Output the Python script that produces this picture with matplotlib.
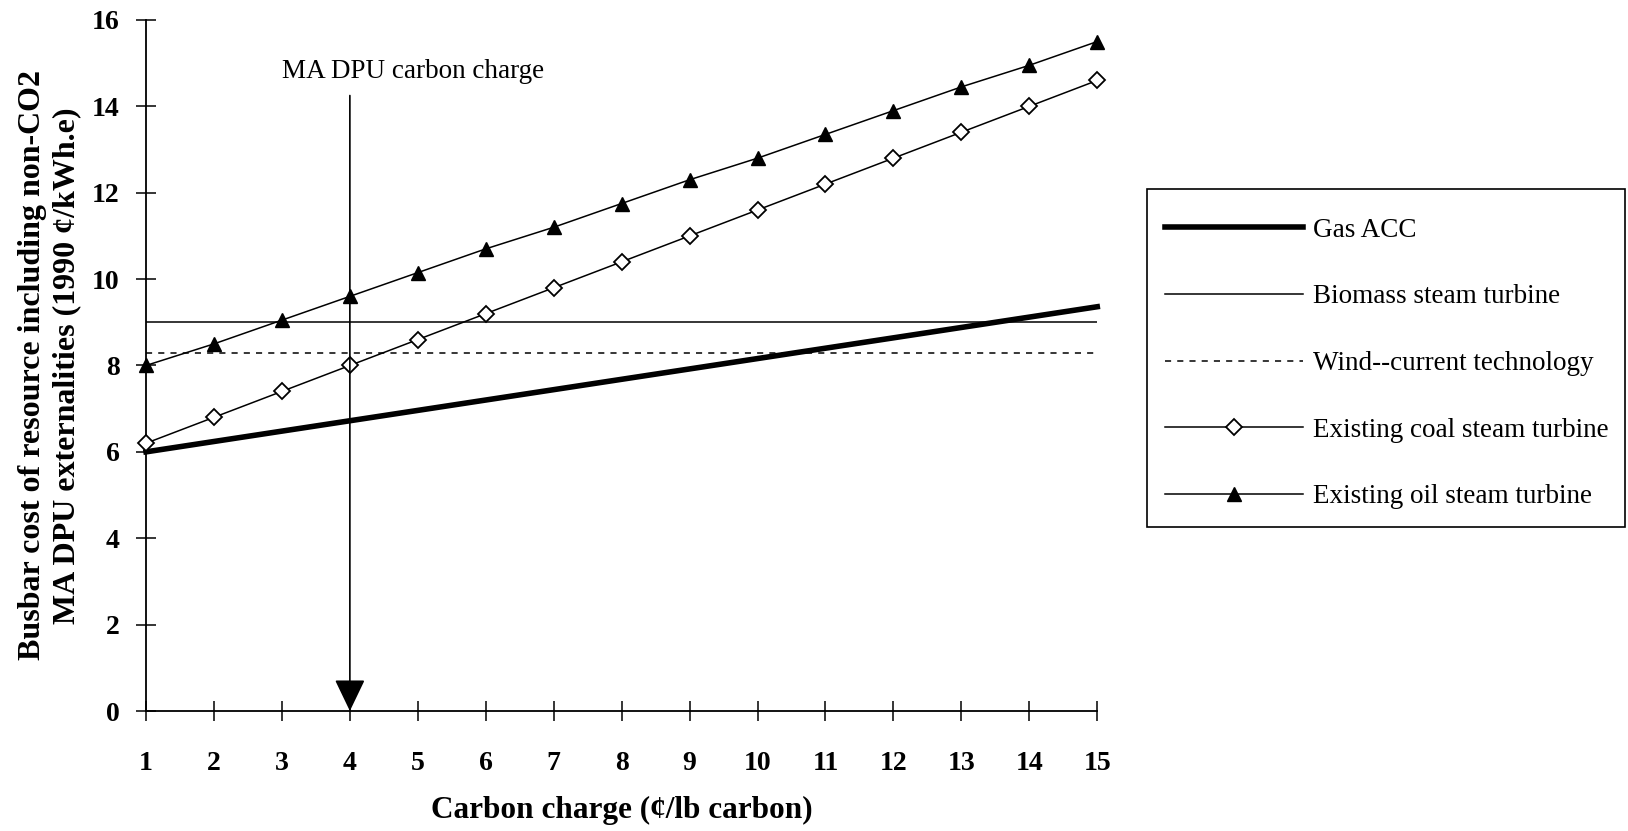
import matplotlib
matplotlib.use("Agg")
import matplotlib.pyplot as plt
from matplotlib.patches import Rectangle

plt.rcParams["font.family"] = ["Liberation Serif", "DejaVu Serif"]

# carbon charge (cents/lb carbon)
carbon_charge = [1, 2, 3, 4, 5, 6, 7, 8, 9, 10, 11, 12, 13, 14, 15]

# busbar cost (1990 cents/kWh.e)
gas_acc = [6.0, 6.24, 6.48, 6.72, 6.96, 7.2, 7.44, 7.68, 7.92, 8.16, 8.4, 8.64, 8.88, 9.12, 9.36]
biomass = [9.0] * 15
wind = [8.3] * 15
coal = [6.2, 6.8, 7.4, 8.0, 8.6, 9.2, 9.8, 10.4, 11.0, 11.6, 12.2, 12.8, 13.4, 14.0, 14.6]
oil = [8.0, 8.5, 9.05, 9.6, 10.15, 10.7, 11.2, 11.75, 12.3, 12.8, 13.35, 13.9, 14.45, 14.95, 15.5]

ma_dpu_charge = 4
arrow_top = 14.25

fig = plt.figure(figsize=(16.28, 8.31), dpi=100)
ax = fig.add_axes([0.0897, 0.1444, 0.5843, 0.8316])

ax.plot(carbon_charge, gas_acc, color="black", lw=4.0, label="Gas ACC", clip_on=False)
ax.plot(carbon_charge, biomass, color="black", lw=1.1, label="Biomass steam turbine")
ax.plot(carbon_charge, wind, color="black", lw=1.1, ls=(0, (4, 4)),
        label="Wind--current technology")
ax.plot(carbon_charge, coal, color="black", lw=1.1, marker="D", ms=8,
        mfc="white", mec="black", mew=1.3, label="Existing coal steam turbine",
        clip_on=False, zorder=4)
ax.plot(carbon_charge, oil, color="black", lw=1.1, marker="^", ms=10,
        mfc="black", mec="black", label="Existing oil steam turbine",
        clip_on=False, zorder=4)

ax.annotate("", xy=(ma_dpu_charge, 0), xytext=(ma_dpu_charge, arrow_top),
            arrowprops=dict(arrowstyle="-|>,head_length=1.0,head_width=0.48",
                            mutation_scale=20, color="black", lw=1.2,
                            shrinkA=0, shrinkB=0), zorder=5)
ax.text(4.93, 14.8, "MA DPU carbon charge", ha="center", va="center", fontsize=19.5)

ax.set_xlim(1, 15)
ax.set_ylim(0, 16)
ax.set_xticks(carbon_charge)
ax.set_yticks(range(0, 17, 2))
for s in ("top", "right"):
    ax.spines[s].set_visible(False)
for s in ("left", "bottom"):
    ax.spines[s].set_linewidth(1.3)
ax.tick_params(direction="inout", length=14, width=1.1, labelsize=20)
ax.tick_params(axis="x", pad=22)
ax.tick_params(axis="y", pad=12)
for lab in ax.get_xticklabels() + ax.get_yticklabels():
    lab.set_fontweight("bold")

ax.set_xlabel("Carbon charge (\u00a2/lb carbon)", fontsize=22.5, fontweight="bold", labelpad=14)
ax.set_ylabel("Busbar cost of resource including non-CO2\nMA DPU externalities (1990 \u00a2/kWh.e)",
              fontsize=23, fontweight="bold", labelpad=8)

# legend box drawn separately so the padding matches the original
fig.patches.append(Rectangle((0.7045, 0.3658), 0.2936, 0.4067, transform=fig.transFigure,
                             fill=False, edgecolor="black", lw=1.2))
fig.legend(loc="center left", bbox_to_anchor=(1165 / 1628, 0.5626), borderaxespad=0,
           borderpad=0, frameon=False, fontsize=19.5, handlelength=5.1,
           labelspacing=1.54, handletextpad=0.37)

fig.savefig("out.png", dpi=100)
